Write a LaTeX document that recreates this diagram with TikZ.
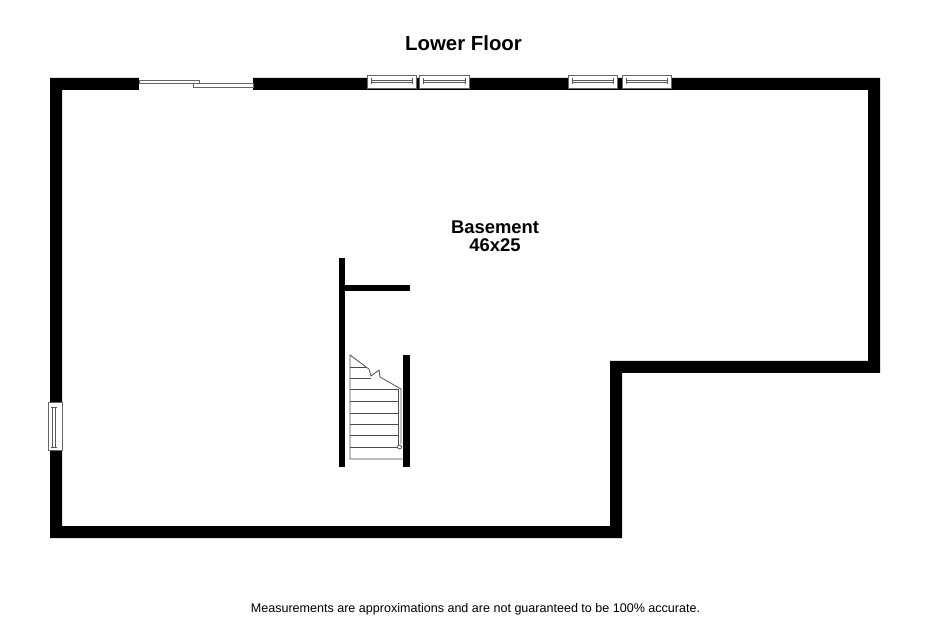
\documentclass[tikz,border=0pt]{standalone}
\usepackage{fontspec}
\setmainfont{Liberation Sans}
\tikzset{
  wall/.style={fill=black,draw=none},
  glass/.style={fill=white,draw=black!60,line width=1pt},
  pane/.style={draw=black!65,line width=0.8pt},
  stairline/.style={draw=black!70,line width=0.8pt},
  label/.style={inner sep=0pt,font=\bfseries,align=center}
}
\newcommand{\hwin}[1]{%
  \draw[glass] (#1,76) rectangle ++(49.5,13);
  \draw[pane] (#1+4,80) -- ++(41.5,0) (#1+4,82.5) -- ++(41.5,0);
  \draw[pane] (#1+4,78.5) -- ++(0,6) (#1+45.5,78.5) -- ++(0,6);
}
\begin{document}
\begin{tikzpicture}[x=1pt,y=-1pt]
\useasboundingbox (0,0) rectangle (930,620);
\fill[white] (0,0) rectangle (930,620);
% outer walls
\fill[wall,even odd rule] (50,78) -- (880,78) -- (880,373) -- (622,373) -- (622,538) -- (50,538) -- cycle
  (62,90) -- (868,90) -- (868,361) -- (610,361) -- (610,526) -- (62,526) -- cycle;
% sliding door opening
\fill[white] (139,76) rectangle (253,91);
\draw[glass,line width=0.8pt] (139,80) rectangle (199,83.5);
\draw[glass,line width=0.8pt] (193,83.5) rectangle (253,87);
% windows
\hwin{367}
\hwin{419.5}
\hwin{568}
\hwin{622}
\draw[glass] (48,402.5) rectangle (62,451);
\draw[pane] (52,407) -- (52,447) (55,407) -- (55,447);
\draw[pane] (50.5,407) -- (56.5,407) (50.5,447) -- (56.5,447);
% interior walls
\fill[wall] (339,258) rectangle (345,467);
\fill[wall] (345,285) rectangle (409.5,291);
\fill[wall] (403,355) rectangle (409.5,467);
% stairs
\draw[stairline] (403,459) -- (350,459) -- (350,355) -- (366,367) -- (369,369) -- (371,376) -- (379,370) -- (380,377) -- (401,389) -- (401,444);
\draw[stairline] (398,389) -- (398,445);
\foreach \y/\xe in {367/366,378/371,389/398,401/398,413/398,424/398,435/398,447/397}
  \draw[stairline] (350,\y) -- (\xe,\y);
\draw[stairline,fill=white] (399.5,447) circle (2);
% labels
\node[label,font=\bfseries\fontsize{20.4}{22}\selectfont] (title) at (463.5,43) {Lower Floor};
\node[label,font=\bfseries\fontsize{18.4}{18}\selectfont] (room) at (495,236.5) {Basement\\46x25};
\node[inner sep=0pt,font=\fontsize{12.55}{14}\selectfont] (note) at (475.5,609) {Measurements are approximations and are not guaranteed to be 100\% accurate.};
\end{tikzpicture}
\end{document}
